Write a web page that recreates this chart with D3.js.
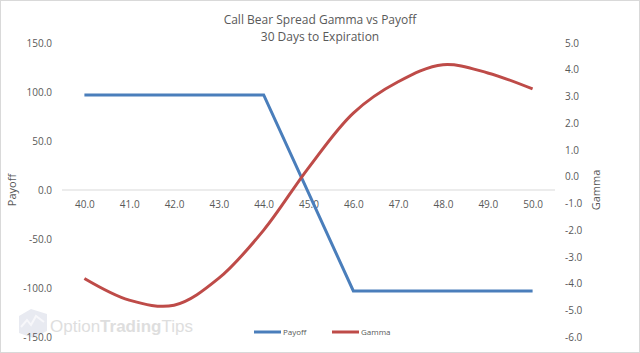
<!DOCTYPE html>
<html lang="en">
<head>
  <meta charset="UTF-8">
  <title>Call Bear Spread Gamma vs Payoff</title>
  <script src="https://cdn.jsdelivr.net/npm/d3@7/dist/d3.min.js"></script>
  <style>
    body { margin: 0; background: #fff; }
    text { font-family: "Open Sans", "Liberation Sans", sans-serif; fill: #595959; }
  </style>
</head>
<body>
  <div id="chart"></div>
  <script>
    // data
    const strikes = ["40.0", "41.0", "42.0", "43.0", "44.0", "45.0", "46.0", "47.0", "48.0", "49.0", "50.0"];
    const payoff = [97, 97, 97, 97, 97, -3, -103, -103, -103, -103, -103];
    const gamma = [-3.81, -4.62, -4.81, -3.8, -2.0, 0.33, 2.38, 3.55, 4.19, 3.88, 3.28];
    const payoffTicks = [-150, -100, -50, 0, 50, 100, 150];
    const gammaTicks = [-6, -5, -4, -3, -2, -1, 0, 1, 2, 3, 4, 5];

    const W = 640, H = 353;
    const plot = { left: 62, right: 555, top: 43, bottom: 337 };

    const svg = d3.select("#chart").append("svg")
      .attr("width", W)
      .attr("height", H);

    // chart border
    svg.append("rect")
      .attr("x", 0.5).attr("y", 0.5)
      .attr("width", W - 1).attr("height", H - 1)
      .attr("fill", "#fff")
      .attr("stroke", "#d9d9d9");

    // watermark
    const wm = svg.append("g");
    wm.append("path")
      .attr("d", "M19,316 L31,309 L47,314 L47,331 L33,338 L19,333 Z")
      .attr("fill", "#e8eaf1");
    wm.append("path")
      .attr("d", "M21,327 L27,320 L31,325 L36,316 L44,322")
      .attr("fill", "none").attr("stroke", "#f7f7fa").attr("stroke-width", 2);
    let wx = 50;
    [["Option", "normal"], ["Trading", "bold"], ["Tips", "normal"]].forEach(([word, weight]) => {
      const t = wm.append("text")
        .attr("x", wx).attr("y", 332)
        .attr("font-weight", weight)
        .style("font-family", "Liberation Sans, Arial, sans-serif")
        .style("font-size", "17px")
        .style("fill", "#dedede")
        .text(word);
      wx += t.node().getComputedTextLength();
    });

    const x = d3.scalePoint()
      .domain(strikes)
      .range([plot.left, plot.right])
      .padding(0.5);

    const yPay = d3.scaleLinear()
      .domain([-150, 150])
      .range([plot.bottom, plot.top]);

    const yGam = d3.scaleLinear()
      .domain([-6, 5])
      .range([plot.bottom, plot.top]);

    const fmt = d => d.toFixed(1);

    // left axis
    svg.append("g")
      .attr("transform", `translate(${plot.left - 10},0)`)
      .call(d3.axisLeft(yPay).tickValues(payoffTicks).tickFormat(fmt).tickSize(0))
      .call(g => g.select(".domain").remove())
      .selectAll("text")
        .style("font-size", "10px")
        .attr("x", 0);

    // right axis
    svg.append("g")
      .attr("transform", `translate(${plot.right + 10},0)`)
      .call(d3.axisRight(yGam).tickValues(gammaTicks).tickFormat(fmt).tickSize(0))
      .call(g => g.select(".domain").remove())
      .selectAll("text")
        .style("font-size", "10px")
        .attr("x", 0);

    // category axis sits on payoff zero
    const xAxis = svg.append("g")
      .attr("transform", `translate(0,${yPay(0)})`)
      .call(d3.axisBottom(x).tickSize(0).tickPadding(11));
    xAxis.select(".domain")
      .attr("d", `M${plot.left},0H${plot.right}`)
      .attr("stroke", "#d9d9d9");
    xAxis.selectAll("text").style("font-size", "10px");

    // lines
    const payLine = d3.line()
      .x((d, i) => x(strikes[i]))
      .y(d => yPay(d));

    const gamLine = d3.line()
      .x((d, i) => x(strikes[i]))
      .y(d => yGam(d))
      .curve(d3.curveCatmullRom.alpha(0.5));

    svg.append("path")
      .datum(payoff)
      .attr("fill", "none")
      .attr("stroke", "#4a7ebb")
      .attr("stroke-width", 3)
      .attr("d", payLine);

    svg.append("path")
      .datum(gamma)
      .attr("fill", "none")
      .attr("stroke", "#be4b48")
      .attr("stroke-width", 3)
      .attr("d", gamLine);

    // titles
    svg.append("text")
      .attr("x", 320).attr("y", 24)
      .attr("text-anchor", "middle")
      .style("font-size", "12px")
      .text("Call Bear Spread Gamma vs Payoff");
    svg.append("text")
      .attr("x", 320).attr("y", 41)
      .attr("text-anchor", "middle")
      .style("font-size", "12px")
      .text("30 Days to Expiration");

    svg.append("text")
      .attr("transform", "translate(16,190) rotate(-90)")
      .attr("text-anchor", "middle")
      .style("font-size", "11px")
      .text("Payoff");
    svg.append("text")
      .attr("transform", "translate(600,190) rotate(-90)")
      .attr("text-anchor", "middle")
      .style("font-size", "11px")
      .text("Gamma");

    // legend
    const legend = [
      { name: "Payoff", color: "#4a7ebb", x: 254 },
      { name: "Gamma", color: "#be4b48", x: 332 }
    ];
    const lg = svg.selectAll(".legend").data(legend).enter().append("g")
      .attr("transform", d => `translate(${d.x},332)`);
    lg.append("line")
      .attr("x1", 0).attr("x2", 27)
      .attr("stroke", d => d.color)
      .attr("stroke-width", 3);
    lg.append("text")
      .attr("x", 29).attr("y", 3)
      .style("font-size", "8px")
      .text(d => d.name);
  </script>
</body>
</html>
